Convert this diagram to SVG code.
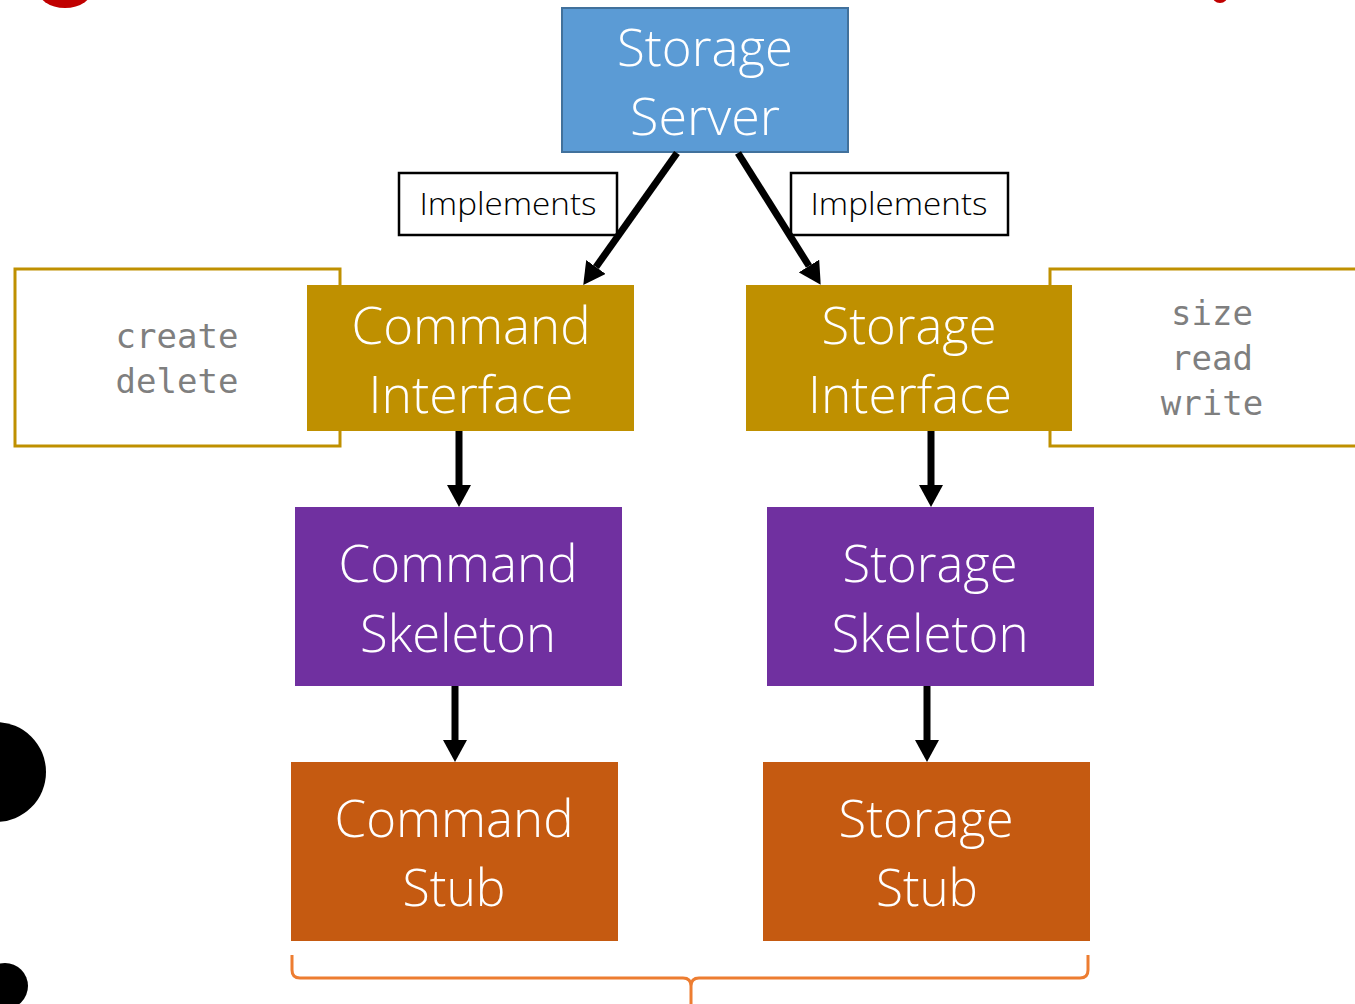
<svg xmlns="http://www.w3.org/2000/svg" width="1355" height="1004" viewBox="0 0 1355 1004">
  <style>
    .title { font-family: "Open Sans", "Noto Sans", sans-serif; font-weight: 300; font-size: 52px; fill: #ffffff; text-anchor: middle; }
    .lbl { font-family: "Open Sans", "Noto Sans", sans-serif; font-weight: 300; font-size: 31px; fill: #000000; text-anchor: middle; }
    .code { font-family: "DejaVu Sans Mono", "Liberation Mono", monospace; font-size: 34px; fill: #7f7f7f; text-anchor: middle; }
    .methods { fill: #ffffff; stroke: #bf9000; stroke-width: 3; }
    .iface { fill: #bf9000; }
    .skel { fill: #7030a0; }
    .stub { fill: #c55a11; }
    .tag { fill: #ffffff; stroke: #000000; stroke-width: 2.5; }
    .link { stroke: #000000; stroke-width: 7; fill: none; marker-end: url(#head); }
  </style>
  <defs>
    <marker id="head" markerUnits="userSpaceOnUse" markerWidth="22" markerHeight="24" viewBox="0 0 22 24" refX="0" refY="12" orient="auto">
      <path d="M0,0 L22,12 L0,24 z" fill="#000000"/>
    </marker>
  </defs>

  <rect width="1355" height="1004" fill="#ffffff"/>

  <!-- slide decorations at the edges -->
  <g id="decor">
    <ellipse cx="65" cy="-12" rx="28" ry="20" fill="#c00000"/>
    <ellipse cx="1220" cy="-5" rx="8" ry="8" fill="#c00000"/>
    <circle cx="-4" cy="772" r="50" fill="#000000"/>
    <circle cx="5" cy="986" r="23" fill="#000000"/>
  </g>

  <!-- method lists behind the interfaces -->
  <g id="command-methods">
    <rect class="methods" x="15" y="269" width="325" height="177"/>
    <text class="code" x="177" y="348">create</text>
    <text class="code" x="177" y="393">delete</text>
  </g>
  <g id="storage-methods">
    <rect class="methods" x="1050" y="269" width="320" height="177"/>
    <text class="code" x="1212" y="325">size</text>
    <text class="code" x="1212" y="370">read</text>
    <text class="code" x="1212" y="415">write</text>
  </g>

  <g id="storage-server">
    <rect x="562" y="8" width="286" height="144" fill="#5b9bd5" stroke="#41719c" stroke-width="2"/>
    <text class="title" x="705" y="66" textLength="176" lengthAdjust="spacingAndGlyphs">Storage</text>
    <text class="title" x="705" y="135" textLength="150" lengthAdjust="spacingAndGlyphs">Server</text>
  </g>

  <g id="command-interface">
    <rect class="iface" x="307" y="285" width="327" height="146"/>
    <text class="title" x="471" y="344" textLength="239" lengthAdjust="spacingAndGlyphs">Command</text>
    <text class="title" x="471" y="413" textLength="205" lengthAdjust="spacingAndGlyphs">Interface</text>
  </g>
  <g id="storage-interface">
    <rect class="iface" x="746" y="285" width="326" height="146"/>
    <text class="title" x="909" y="344" textLength="175" lengthAdjust="spacingAndGlyphs">Storage</text>
    <text class="title" x="910" y="413" textLength="204" lengthAdjust="spacingAndGlyphs">Interface</text>
  </g>

  <g id="command-skeleton">
    <rect class="skel" x="295" y="507" width="327" height="179"/>
    <text class="title" x="458" y="582" textLength="239" lengthAdjust="spacingAndGlyphs">Command</text>
    <text class="title" x="458" y="652" textLength="196" lengthAdjust="spacingAndGlyphs">Skeleton</text>
  </g>
  <g id="storage-skeleton">
    <rect class="skel" x="767" y="507" width="327" height="179"/>
    <text class="title" x="930" y="582" textLength="175" lengthAdjust="spacingAndGlyphs">Storage</text>
    <text class="title" x="930" y="652" textLength="197" lengthAdjust="spacingAndGlyphs">Skeleton</text>
  </g>

  <g id="command-stub">
    <rect class="stub" x="291" y="762" width="327" height="179"/>
    <text class="title" x="454" y="837" textLength="239" lengthAdjust="spacingAndGlyphs">Command</text>
    <text class="title" x="454" y="906" textLength="103" lengthAdjust="spacingAndGlyphs">Stub</text>
  </g>
  <g id="storage-stub">
    <rect class="stub" x="763" y="762" width="327" height="179"/>
    <text class="title" x="926" y="837" textLength="175" lengthAdjust="spacingAndGlyphs">Storage</text>
    <text class="title" x="927" y="906" textLength="102" lengthAdjust="spacingAndGlyphs">Stub</text>
  </g>

  <!-- grouping brace under the stubs -->
  <g id="brace">
    <path d="M292,955 L292,970 Q292,978 300,978 L683,978 Q691,978 691,986 L691,1004 M691,986 Q691,978 699,978 L1080,978 Q1088,978 1088,970 L1088,955" fill="none" stroke="#ed7d31" stroke-width="3"/>
  </g>

  <!-- connectors -->
  <g id="connectors">
    <g id="implements-left">
      <rect class="tag" x="399" y="173" width="218" height="62"/>
      <text class="lbl" x="508" y="215" textLength="177" lengthAdjust="spacingAndGlyphs">Implements</text>
    </g>
    <g id="implements-right">
      <rect class="tag" x="791" y="173" width="217" height="62"/>
      <text class="lbl" x="899" y="215" textLength="177" lengthAdjust="spacingAndGlyphs">Implements</text>
    </g>
    <line class="link" x1="677" y1="153" x2="596" y2="267"/>
    <line class="link" x1="738" y1="153" x2="809" y2="266"/>
    <line class="link" x1="459" y1="431" x2="459" y2="485"/>
    <line class="link" x1="931" y1="431" x2="931" y2="485"/>
    <line class="link" x1="455" y1="686" x2="455" y2="740"/>
    <line class="link" x1="927" y1="686" x2="927" y2="740"/>
  </g>
</svg>
